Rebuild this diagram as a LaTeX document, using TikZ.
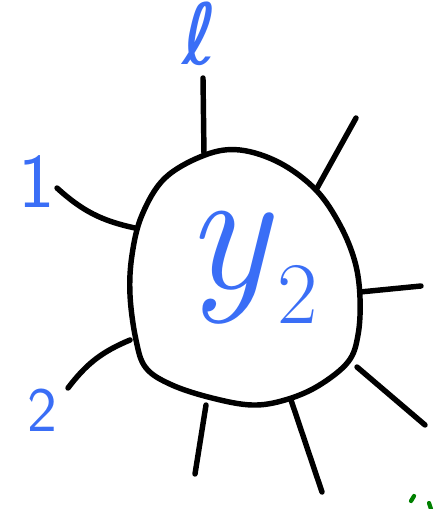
\documentclass[tikz,border=0pt]{standalone}
\usepackage{fontspec}
\usepackage{xcolor}
\usetikzlibrary{calc}
\newfontfamily\symfont{DejaVu Sans}
\definecolor{inkblue}{RGB}{58,110,246}
\definecolor{inkgreen}{RGB}{0,128,0}
\tikzset{
  pen/.style={line width=3.1pt, line cap=round, line join=round, black},
  tag/.style={text=inkblue, inner sep=0pt, font=#1}
}

\begin{document}
\begin{tikzpicture}[x=0.02cm, y=-0.02cm]
  \useasboundingbox (0,0) rectangle (439,509);

  % the blob
  \draw[pen] plot[smooth cycle, tension=0.6] coordinates {
    (205,155) (240,150) (280,163) (316,190) (340,225) (355,262)
    (360,298) (358,335) (348,362) (318,386) (285,400) (252,405)
    (212,398) (172,385) (146,368) (136,340) (130,295) (132,255)
    (142,215) (165,178)};

  % where the legs leave the blob, and their free ends
  \coordinate (ta) at (204,155);  \coordinate (te) at (203,78);
  \coordinate (ura) at (316,190); \coordinate (ure) at (356,118);
  \coordinate (la) at (135,228);  \coordinate (le) at (57,188);
  \coordinate (ra) at (360,292);  \coordinate (re) at (421,286);
  \coordinate (lra) at (357,367); \coordinate (lre) at (425,425);
  \coordinate (bra) at (291,400); \coordinate (bre) at (322,492);
  \coordinate (ba) at (206,405);  \coordinate (be) at (195,474);
  \coordinate (lla) at (130,340); \coordinate (lle) at (68,388);

  \foreach \from/\to/\b in {ta/te/0, ura/ure/0, la/le/15, ra/re/0,
                            lra/lre/0, bra/bre/0, ba/be/0, lla/lle/-15}
    \draw[pen] (\from) to[bend left=\b] (\to);

  % labels
  \node[tag=\fontsize{48}{48}\selectfont\symfont] (ell) at (200,34) {ℓ};
  \node[tag=\fontsize{44}{44}\selectfont\sffamily] (one) at (37,182) {1};
  \node[tag=\fontsize{36}{36}\selectfont\sffamily] (two) at (42,410) {2};
  \node[tag=\fontsize{100}{100}\selectfont\itshape] (y) at (252,268)
    {y\kern0.05em\raisebox{-0.2em}{\fontsize{50}{50}\selectfont\upshape 2}};

  % green stroke cut off at the corner
  \draw[inkgreen, line width=2.4pt, line cap=round] (414,496) -- (411,501);
  \draw[inkgreen, line width=2.4pt, line cap=round] (429,503) -- (431,509);
\end{tikzpicture}
\end{document}
